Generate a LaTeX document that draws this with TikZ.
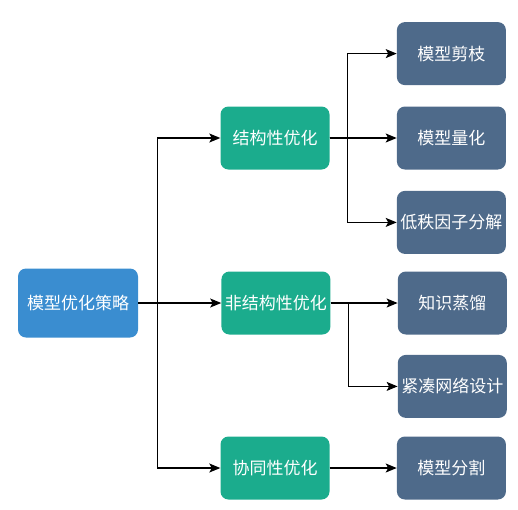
\documentclass[tikz,border=0pt]{standalone}
\usepackage{fontspec}
\usepackage{tikz}
\usetikzlibrary{arrows.meta,positioning}
\newfontfamily\cjk{Noto Sans CJK SC}
\definecolor{rootblue}{RGB}{58, 141, 208}
\definecolor{midgreen}{RGB}{27, 172, 141}
\definecolor{leafslate}{RGB}{78, 106, 138}

\begin{document}
\begin{tikzpicture}[
    x=1pt, y=-1pt,
    every node/.style={font=\cjk\fontsize{17}{19}\selectfont, text=white, align=center, inner sep=1pt},
    rootbox/.style={rectangle, fill=rootblue, rounded corners=8pt, minimum width=120pt, minimum height=69pt},
    midbox/.style={rectangle, fill=midgreen, rounded corners=8pt, minimum width=109pt, minimum height=63pt},
    leafbox/.style={rectangle, fill=leafslate, rounded corners=8pt, minimum width=109pt, minimum height=63pt},
    arrow/.style={-{Stealth[length=11pt, width=9pt, inset=2.5pt]}, line width=1.1pt, draw=black}
]
    \useasboundingbox (0,0) rectangle (518,509);

    \node[rootbox] (root) at (78,303) {模型优化策略};
    \node[midbox, right=83pt of root] (unstruct) {非结构性优化};
    \node[midbox] (struct) at (275,138) {结构性优化};
    \node[midbox] (collab) at (275,468) {协同性优化};

    \node[leafbox, right=67pt of struct] (quant) {模型量化};
    \node[leafbox, above=21pt of quant] (prune) {模型剪枝};
    \node[leafbox, below=21pt of quant] (lowrank) {低秩因子分解};
    \node[leafbox, right=67pt of unstruct] (distill) {知识蒸馏};
    \node[leafbox, below=20pt of distill] (compact) {紧凑网络设计};
    \node[leafbox, right=67pt of collab] (split) {模型分割};

    \draw[arrow] (root.east) -- ++(19,0) |- (struct.west);
    \draw[arrow] (root.east) -- (unstruct.west);
    \draw[arrow] (root.east) -- ++(19,0) |- (collab.west);

    \draw[arrow] (struct.east) -- ++(18,0) |- (prune.west);
    \draw[arrow] (struct.east) -- (quant.west);
    \draw[arrow] (struct.east) -- ++(18,0) |- (lowrank.west);
    \draw[arrow] (unstruct.east) -- (distill.west);
    \draw[arrow] (unstruct.east) -- ++(18,0) |- (compact.west);
    \draw[arrow] (collab.east) -- (split.west);
\end{tikzpicture}
\end{document}
